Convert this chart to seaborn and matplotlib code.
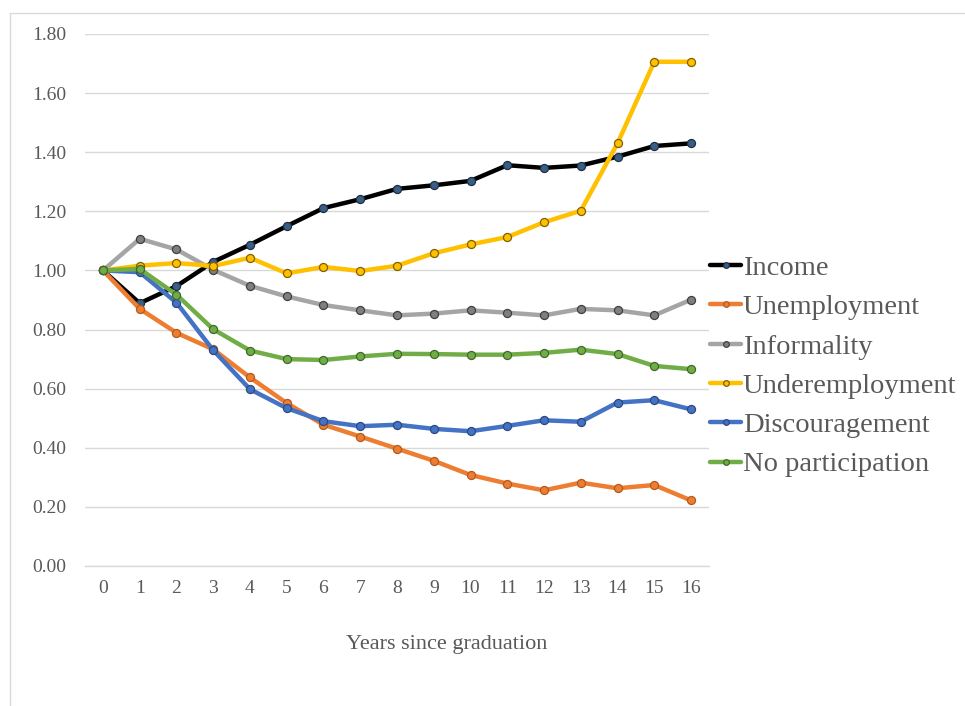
import matplotlib
matplotlib.use("Agg")
import matplotlib.pyplot as plt
import seaborn as sns
import numpy as np
import pandas as pd
from matplotlib.patches import Rectangle

years = list(range(17))
income = [1.00, 0.889, 0.947, 1.029, 1.087, 1.150, 1.211, 1.241, 1.276, 1.288, 1.303, 1.356, 1.347, 1.355, 1.385, 1.421, 1.430]
unemployment = [1.00, 0.870, 0.789, 0.733, 0.638, 0.551, 0.478, 0.438, 0.397, 0.356, 0.308, 0.279, 0.256, 0.282, 0.263, 0.274, 0.222]
informality = [1.00, 1.107, 1.071, 1.002, 0.948, 0.912, 0.883, 0.865, 0.848, 0.854, 0.865, 0.857, 0.848, 0.870, 0.865, 0.848, 0.901]
underemployment = [1.00, 1.016, 1.025, 1.015, 1.043, 0.990, 1.012, 0.998, 1.016, 1.058, 1.088, 1.113, 1.163, 1.202, 1.430, 1.706, 1.706]
discouragement = [1.00, 0.994, 0.891, 0.730, 0.598, 0.534, 0.490, 0.473, 0.478, 0.464, 0.456, 0.474, 0.493, 0.488, 0.553, 0.561, 0.530]
no_participation = [1.00, 1.005, 0.918, 0.801, 0.729, 0.700, 0.697, 0.709, 0.718, 0.717, 0.715, 0.715, 0.721, 0.732, 0.717, 0.677, 0.666]

series_names = ["Income", "Unemployment", "Informality", "Underemployment", "Discouragement", "No participation"]
series_values = [income, unemployment, informality, underemployment, discouragement, no_participation]
line_colors = ["#000000", "#ED7D31", "#A5A5A5", "#FFC000", "#4472C4", "#70AD47"]
face_colors = ["#3A5F86", "#ED7D31", "#7F7F7F", "#FFC000", "#4472C4", "#70AD47"]
edge_colors = ["#1F2F40", "#B35A1E", "#404040", "#806000", "#2B4A80", "#42682A"]

sns.set_theme(style="white")
plt.rcParams['font.family'] = ['Liberation Serif', 'DejaVu Serif']

fig = plt.figure(figsize=(9.65, 7.06), dpi=100)
ax = fig.add_axes([84.6/965, 1-566/706, (709.4-84.6)/965, (566-34)/706])

# chart border (cropped)
fig.patches.append(Rectangle((9.5/965, -0.1), 1.2, 1 - 13/706 + 0.1, transform=fig.transFigure,
                             fill=False, edgecolor="#D9D9D9", linewidth=1.0, zorder=0))

for name, vals, lc, fc, ec in zip(series_names, series_values, line_colors, face_colors, edge_colors):
    df = pd.DataFrame({"year": years, "value": vals})
    sns.lineplot(data=df, x="year", y="value", ax=ax, color=lc, linewidth=3.2,
                 marker="o", markersize=5.8, markerfacecolor=fc, markeredgecolor=ec,
                 markeredgewidth=0.9, label=name, legend=False)

ax.set_xlim(-0.5, 16.5)
ax.set_ylim(0, 1.8)
ax.set_yticks(np.arange(0, 1.81, 0.2))
ax.set_yticklabels([f"{v:.2f}" for v in np.arange(0, 1.81, 0.2)])
ax.set_xticks(years)
ax.set_xticklabels([str(y) for y in years])
ax.tick_params(axis="both", length=0, labelsize=14, colors="#595959")
ax.tick_params(axis="y", pad=13)
ax.tick_params(axis="x", pad=10)
ax.yaxis.grid(True, color="#D9D9D9", linewidth=1.0)
ax.set_axisbelow(True)
for s in ["top", "right", "left"]:
    ax.spines[s].set_visible(False)
ax.spines["bottom"].set_color("#D9D9D9")
ax.spines["bottom"].set_linewidth(1.0)
ax.set_xlabel("")
ax.set_ylabel("")

fig.text(447/965, 1-644/706, "Years since graduation", ha="center", va="center",
         fontsize=16, color="#595959")

handles = ax.get_lines()[:6]
leg = fig.legend(handles, series_names, loc="upper left",
                 bbox_to_anchor=(710/965, 1-255/706), frameon=False,
                 fontsize=20.5, handlelength=1.1, handletextpad=0.05,
                 labelspacing=0.47, borderpad=0, borderaxespad=0, markerscale=0.7)
for t in leg.get_texts():
    t.set_color("#595959")

fig.savefig("out.png", dpi=100)
